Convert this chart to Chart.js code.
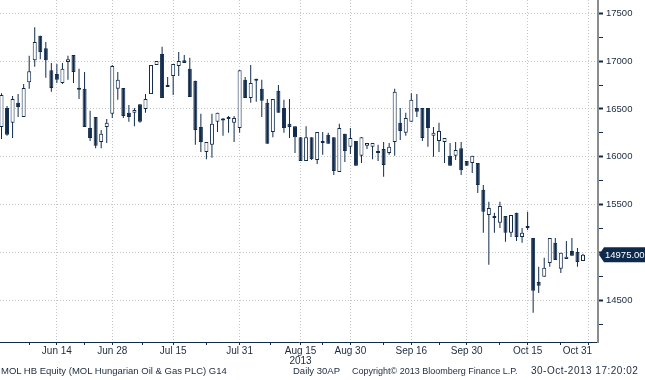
<!DOCTYPE html>
<html><head><meta charset="utf-8">
<script src="https://cdn.jsdelivr.net/npm/chart.js@4.4.1/dist/chart.umd.min.js"></script>
<style>
html,body{margin:0;padding:0;background:#fff;}
#wrap{position:relative;width:645px;height:380px;overflow:hidden;background:#fff;}
canvas{position:absolute;left:0;top:0;}
.ft{position:absolute;top:365px;font-family:'Liberation Sans',Arial,sans-serif;color:#1c2a3e;white-space:nowrap;line-height:12px;}
</style></head><body>
<div id="wrap"><canvas id="c" width="645" height="380"></canvas>
<div class="ft" style="left:1px;font-size:9.5px">MOL HB Equity (MOL Hungarian Oil &amp; Gas PLC) G14</div>
<div class="ft" style="left:293px;font-size:9.5px">Daily 30AP</div>
<div class="ft" style="left:352px;font-size:9px">Copyright© 2013 Bloomberg Finance L.P.</div>
<div class="ft" style="left:531px;font-size:10px;letter-spacing:0.5px">30-Oct-2013 17:20:02</div>
</div>
<script>
// Daily candles, trading-day index 0 = 31-May-2013 ... 105 = 30-Oct-2013
const open  = [16310,16510,16355,16565,16415,16780,17010,17265,17135,16905,16865,16770,16990,17065,16720,16710,16300,16415,16155,16310,
               16450,16710,16720,16460,16460,16550,16500,16655,16960,17075,16750,16845,16950,17010,16920,16795,16310,16050,16125,16365,
               16390,16415,16355,16300,16805,16615,16815,16710,16565,16260,16690,16510,16345,16320,16205,15955,16205,15965,16145,16230,
               16205,15840,16240,16105,16165,16010,16115,16105,16060,16080,16040,16155,16355,16250,16365,16510,16510,16510,16220,16165,
               16155,16010,16010,16090,15955,15935,15935,15655,15390,15380,15310,15380,15205,15415,15160,15255,15150,14690,14745,14890,
               15100,14830,14930,15015,15005,14910];
const high  = [16665,16530,16635,16655,16760,17055,17355,17265,17200,16980,16970,16980,17055,17065,16920,16885,16480,16415,16280,16395,
               16960,16885,16720,16540,16510,16550,16655,16960,17000,17150,16835,16970,17095,17065,17035,16795,16450,16155,16450,16460,
               16405,16425,16425,16905,16835,16960,16815,16805,16605,16605,16750,16595,16605,16320,16205,16320,16205,16260,16260,16250,
               16205,16345,16240,16300,16165,16205,16145,16145,16125,16155,16145,16710,16510,16460,16665,16655,16510,16510,16310,16355,
               16195,16145,16155,16155,15955,16010,15935,15705,15530,15415,15530,15380,15390,15415,15255,15425,15150,14850,14945,15150,
               15150,14995,15120,15150,15045,14985];
const low   = [16185,16220,16195,16415,16415,16710,16940,17020,16825,16680,16770,16760,16805,16770,16605,16310,16165,16090,16090,16145,
               16405,16595,16405,16365,16320,16355,16460,16655,16960,16615,16730,16645,16845,16980,16625,16125,16050,15975,15990,16260,
               16220,16250,16155,16250,16615,16565,16575,16415,16135,16205,16460,16250,16195,16040,15955,15955,15965,15925,16020,16135,
               15810,15840,15945,16030,15905,15935,16080,15975,15955,15790,16020,16010,16175,16220,16365,16415,16165,16105,16000,16050,
               15935,15905,15965,15810,15905,15830,15620,15205,14870,15205,15255,15110,15160,15120,15100,15235,14370,14575,14745,14850,
               14920,14785,14930,14965,14850,14910];
const close = [16645,16230,16605,16520,16720,16895,17200,17095,17010,16720,16805,16920,17020,16885,16700,16310,16195,16115,16240,16355,
               16950,16805,16425,16415,16490,16365,16605,16960,17000,16615,16730,16970,17000,16980,16625,16280,16155,16155,16345,16460,
               16380,16395,16405,16905,16615,16770,16795,16585,16135,16605,16460,16300,16310,16205,15955,16205,15975,16260,16155,16135,
               15850,16300,16060,16195,15905,16205,16145,16145,16040,15915,16105,16680,16270,16405,16595,16470,16195,16300,16250,16270,
               16195,15905,16070,15860,15905,16010,15705,15425,15465,15360,15485,15205,15390,15160,15205,15275,14600,14650,14840,15150,
               14920,14995,14955,14965,14900,14975];

// x-axis (trading-day index) labelled ticks and unlabelled tick marks
const xTickPos    = [10, 20, 31, 43, 54, 63, 74, 84, 95, 106];
const xTickLabels = ['Jun 14', 'Jun 28', 'Jul 15', 'Jul 31', ['Aug 15', '2013'], 'Aug 30', 'Sep 16', 'Sep 30', 'Oct 15', 'Oct 31        '];
const xMinorPos   = [5, 15, 25.5, 37, 48.5, 58, 69, 79, 90, 101];
// y-axis ticks
const yMajorTicks = [14500, 15000, 15500, 16000, 16500, 17000, 17500];
const yMinorTicks = [14250, 14750, 15250, 15750, 16250, 16750, 17250];
const lastPrice = 14975;

const NAVY = '#102a4c';
const GRID = '#c4c4c4';
const TXT = '#1c2a3e';
const FONT = "'Liberation Sans', Arial, sans-serif";
const X_MIN = -0.271, X_MAX = 107.71;
const Y_MIN = 14063, Y_MAX = 17639;

const bodies = open.map((o, i) => ({ x: i, y: [o, close[i]] }));
const wicks = open.map((o, i) => ({ x: i, y: [low[i], high[i]] }));
const bodyColors = open.map((o, i) => close[i] >= o ? '#ffffff' : NAVY);

const lastPricePlugin = {
  id: 'lastPrice',
  afterDraw(chart) {
    const c = chart.ctx;
    const y = chart.scales.y.getPixelForValue(lastPrice);
    const x0 = chart.chartArea.right + 1;
    c.save();
    c.fillStyle = '#0d2a4d';
    c.beginPath();
    c.moveTo(x0, y);
    c.lineTo(x0 + 5, y - 7.5);
    c.lineTo(645, y - 7.5);
    c.lineTo(645, y + 7.5);
    c.lineTo(x0 + 5, y + 7.5);
    c.closePath();
    c.fill();
    c.fillStyle = '#ffffff';
    c.font = '9.5px ' + FONT;
    c.textAlign = 'left';
    c.textBaseline = 'middle';
    c.fillText(lastPrice.toFixed(2), x0 + 6, y + 0.5);
    c.restore();
  }
};

new Chart(document.getElementById('c'), {
  type: 'bar',
  data: {
    datasets: [
      { label: 'Body', data: bodies, barThickness: 4, backgroundColor: bodyColors, borderColor: NAVY,
        borderWidth: 1, borderSkipped: false, minBarLength: 2, grouped: false, order: 1, inflateAmount: 0 },
      { label: 'Wick', data: wicks, barThickness: 1, backgroundColor: NAVY, borderWidth: 0,
        grouped: false, order: 2, inflateAmount: 0 }
    ]
  },
  plugins: [lastPricePlugin],
  options: {
    responsive: false,
    animation: false,
    devicePixelRatio: 1,
    layout: { padding: { left: 0, right: 0, top: 0, bottom: 14 } },
    plugins: { legend: { display: false }, tooltip: { enabled: false } },
    scales: {
      x: {
        type: 'linear', min: X_MIN, max: X_MAX, offset: false, bounds: 'data',
        grid: {
          offset: false, drawTicks: true, tickLength: 3, lineWidth: 1,
          color: ctx => (ctx.tick && xTickPos.includes(ctx.tick.value)) ? GRID : 'rgba(0,0,0,0)',
          tickColor: NAVY
        },
        border: { display: true, color: NAVY, width: 1, dash: [1, 2] },
        ticks: {
          autoSkip: false, maxRotation: 0, minRotation: 0, padding: 1, color: TXT,
          font: { family: FONT, size: 10, lineHeight: 1.0 },
          callback: v => { const k = xTickPos.indexOf(v); return k >= 0 ? xTickLabels[k] : ''; }
        },
        afterBuildTicks: s => {
          s.ticks = xTickPos.concat(xMinorPos).sort((a, b) => a - b).map(v => ({ value: v }));
        },
        afterFit: s => { s.height = 24; s.paddingLeft = 0; s.paddingRight = 0; }
      },
      y: {
        type: 'linear', position: 'right', min: Y_MIN, max: Y_MAX, beginAtZero: false, bounds: 'data',
        grid: {
          drawTicks: true, tickLength: 5,
          color: ctx => (ctx.tick && yMajorTicks.includes(ctx.tick.value)) ? GRID : 'rgba(0,0,0,0)',
          tickColor: NAVY,
          tickWidth: ctx => (ctx.tick && yMajorTicks.includes(ctx.tick.value)) ? 2 : 1
        },
        border: { display: true, color: '#8c8c8c', width: 2, dash: [1, 2] },
        ticks: {
          padding: 3, color: TXT, font: { family: FONT, size: 9.5 },
          callback: v => yMajorTicks.includes(v) ? String(v) : ''
        },
        afterBuildTicks: s => {
          s.ticks = yMinorTicks.concat(yMajorTicks).sort((a, b) => a - b).map(v => ({ value: v }));
        },
        afterFit: s => { s.width = 47; s.paddingTop = 0; s.paddingBottom = 0; }
      }
    }
  }
});
</script>
</body></html>
